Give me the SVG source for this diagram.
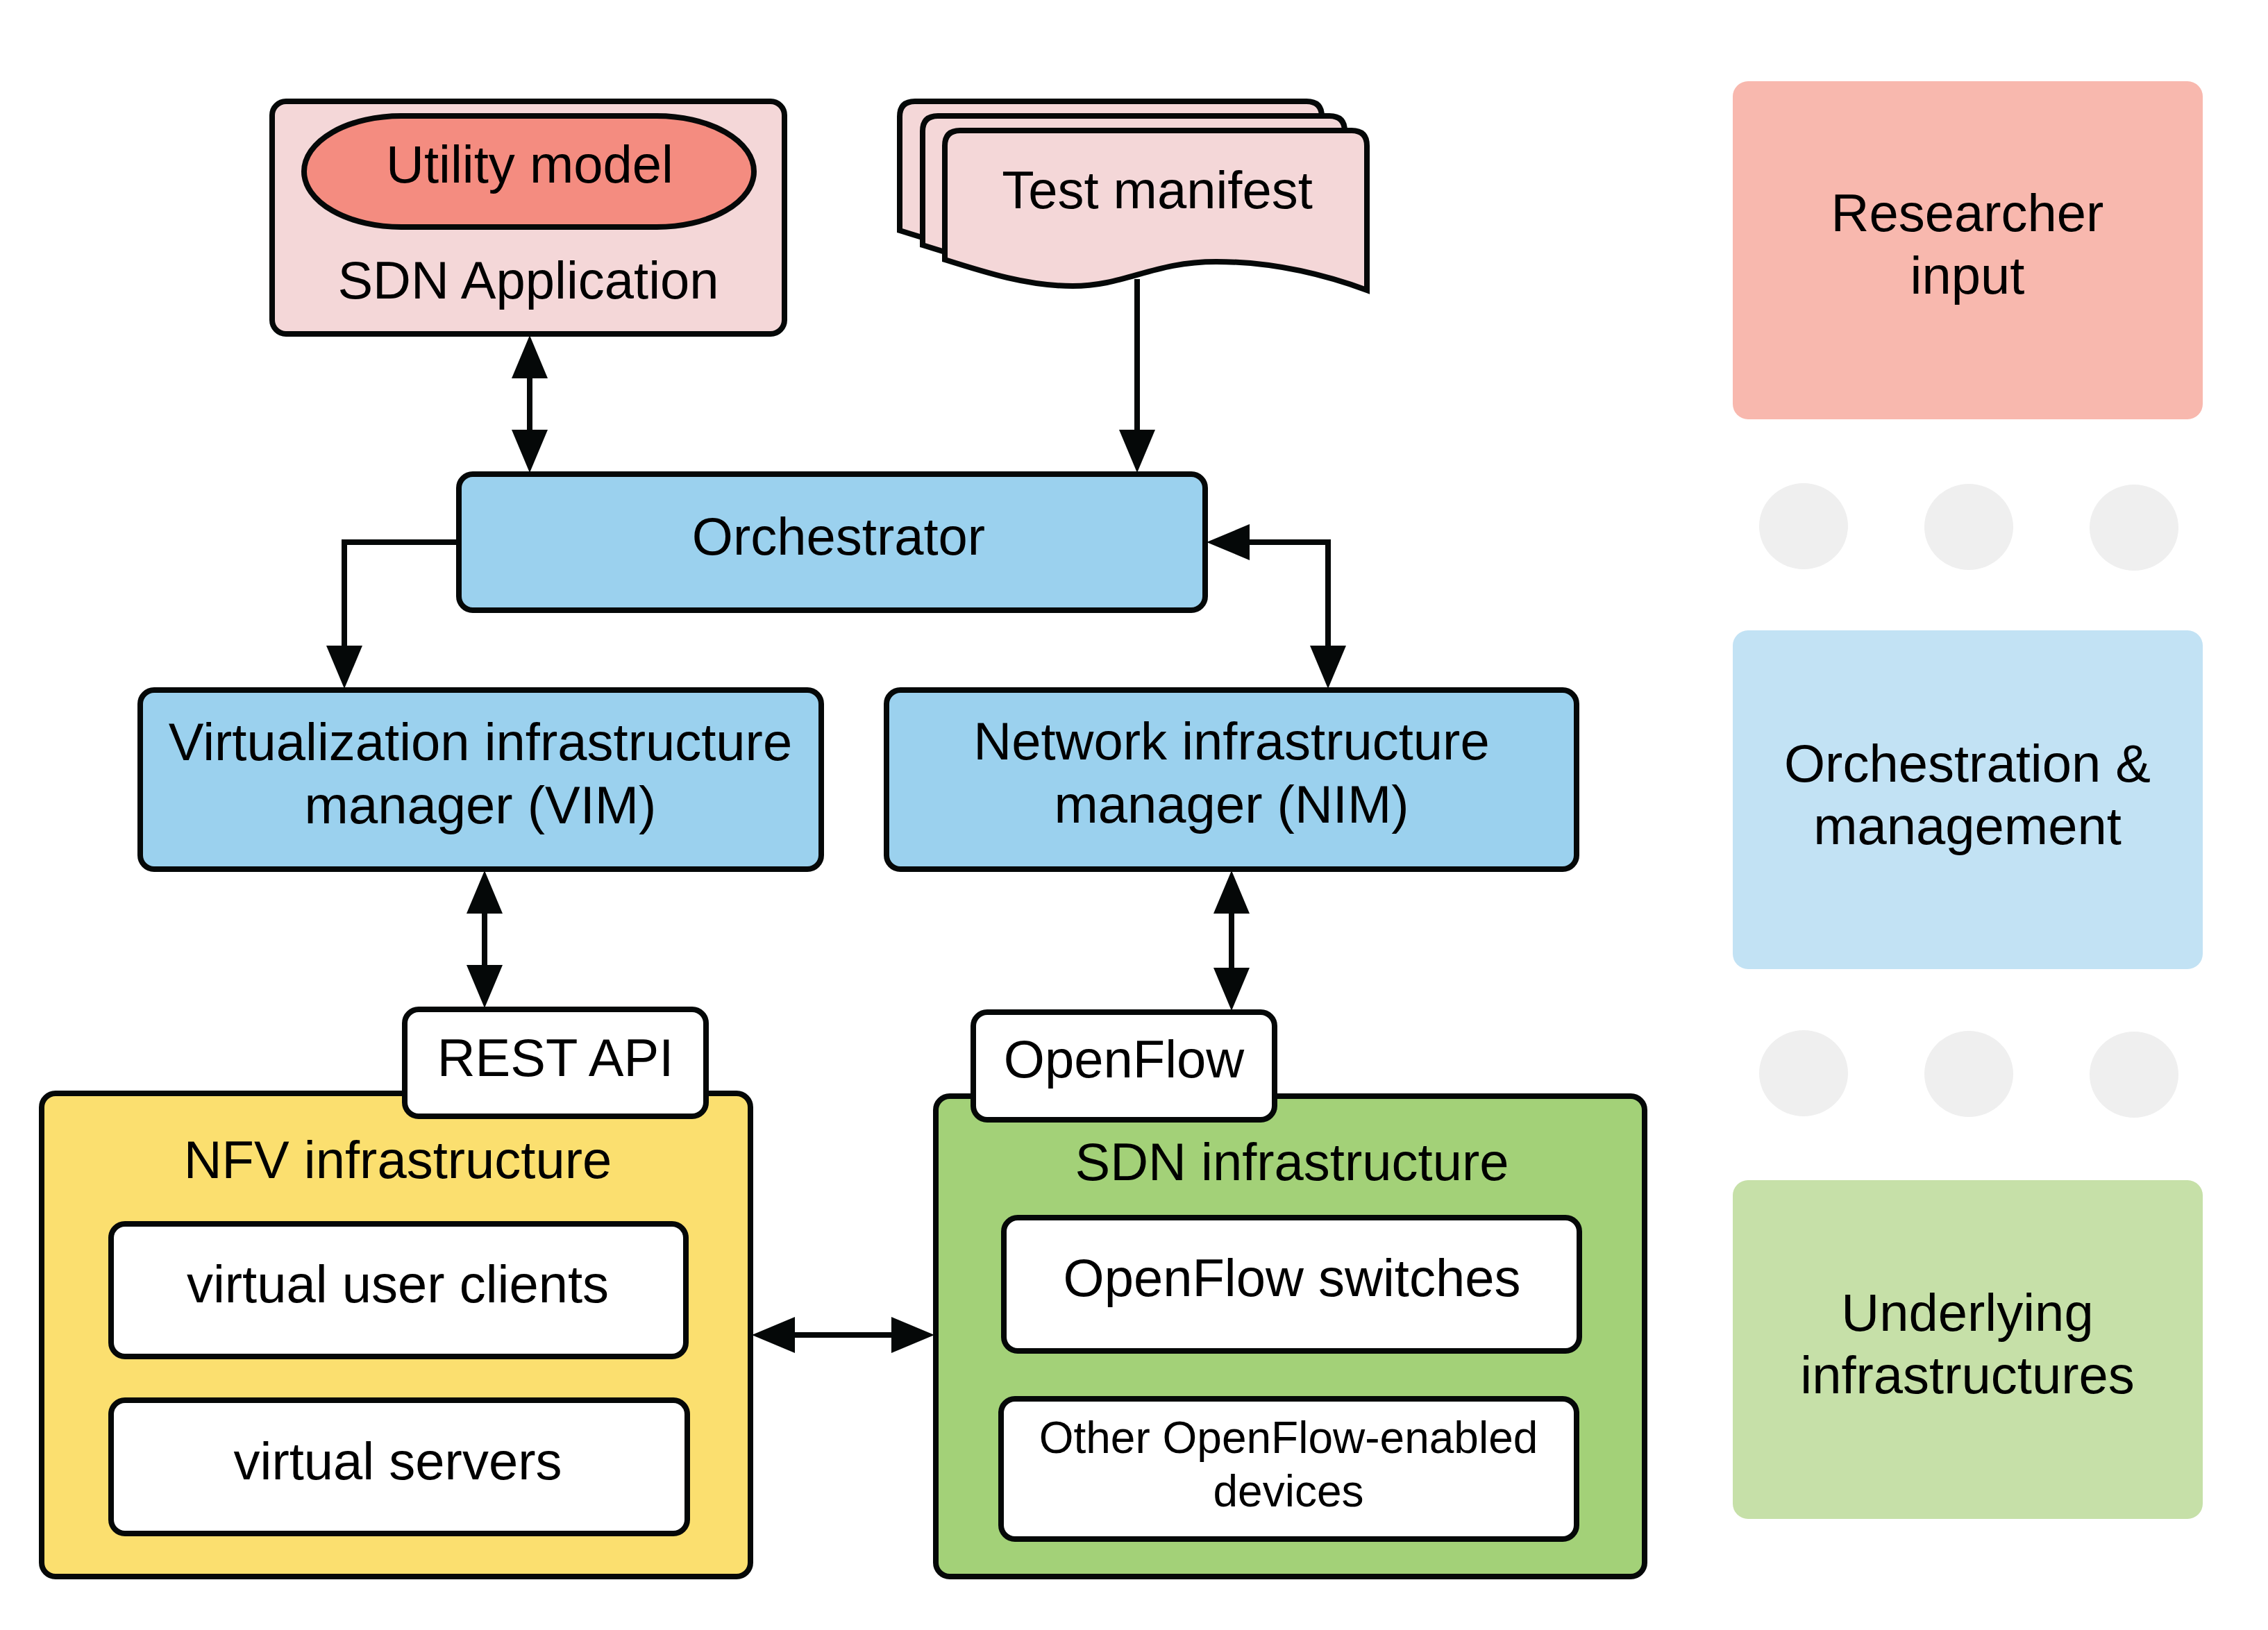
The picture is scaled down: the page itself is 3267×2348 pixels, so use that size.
<svg xmlns="http://www.w3.org/2000/svg" width="3267" height="2348" viewBox="0 0 3267 2348">
<style>
text{font-family:"Liberation Sans",Arial,sans-serif;font-size:76px;fill:#000;text-anchor:middle}
.box{stroke:#050808;stroke-width:8}
.conn{stroke:#050808;stroke-width:8;fill:none}
.blue{fill:#9bd1ee}
.white{fill:#ffffff}
.pink{fill:#f4d7d8}
.leg{stroke:none}
.dot{fill:#efefef}
.small{font-size:64px}
</style>
<defs>
<marker id="ah" markerUnits="userSpaceOnUse" markerWidth="62" markerHeight="52" refX="42" refY="26" orient="auto-start-reverse" viewBox="0 0 62 52">
<path d="M0,0 L62,26 L0,52 z" fill="#050808"/>
</marker>
<path id="sheet" d="M0,22 Q0,0 22,0 H586 Q608,0 608,22 V230 C540,205 470,189 391,189 C300,189 260,224 184,224 C120,224 60,205 0,186 Z"/>
</defs>
<rect width="3267" height="2348" fill="#ffffff"/>

<g id="sdn-application">
<rect class="box pink" x="392" y="146" width="738" height="335" rx="20"/>
<rect class="box" x="438" y="167" width="648" height="160" rx="140" ry="80" fill="#f48c80"/>
<text x="763" y="263">Utility model</text>
<text x="761" y="430">SDN Application</text>
</g>

<g id="test-manifest">
<use href="#sheet" class="box pink" x="1296" y="146"/>
<use href="#sheet" class="box pink" x="1329" y="167"/>
<use href="#sheet" class="box pink" x="1361" y="188"/>
<text x="1667" y="300">Test manifest</text>
</g>

<g id="orchestrator">
<rect class="box blue" x="661" y="683" width="1075" height="196" rx="20"/>
<text x="1208" y="799">Orchestrator</text>
</g>

<g id="vim">
<rect class="box blue" x="202" y="994" width="981" height="258" rx="20"/>
<text x="692" y="1095">Virtualization infrastructure</text>
<text x="692" y="1186">manager (VIM)</text>
</g>

<g id="nim">
<rect class="box blue" x="1277" y="994" width="994" height="258" rx="20"/>
<text x="1774" y="1094">Network infrastructure</text>
<text x="1774" y="1185">manager (NIM)</text>
</g>

<g id="nfv-infrastructure">
<rect class="box" x="60" y="1575" width="1021" height="696" rx="20" fill="#fbdf6f"/>
<text x="573" y="1697">NFV infrastructure</text>
</g>
<g id="virtual-user-clients">
<rect class="box white" x="160" y="1763" width="828" height="191" rx="20"/>
<text x="573" y="1876">virtual user clients</text>
</g>
<g id="virtual-servers">
<rect class="box white" x="160" y="2017" width="830" height="192" rx="20"/>
<text x="573" y="2131">virtual servers</text>
</g>
<g id="rest-api">
<rect class="box white" x="583" y="1454" width="434" height="154" rx="20"/>
<text x="800" y="1550">REST API</text>
</g>

<g id="sdn-infrastructure">
<rect class="box" x="1348" y="1579" width="1021" height="692" rx="20" fill="#a3d178"/>
<text x="1861" y="1700">SDN infrastructure</text>
</g>
<g id="openflow-switches">
<rect class="box white" x="1446" y="1754" width="829" height="192" rx="20"/>
<text x="1861" y="1867">OpenFlow switches</text>
</g>
<g id="other-devices">
<rect class="box white" x="1442" y="2015" width="829" height="202" rx="20"/>
<text class="small" x="1856" y="2093">Other OpenFlow-enabled</text>
<text class="small" x="1856" y="2170">devices</text>
</g>
<g id="openflow">
<rect class="box white" x="1402" y="1458" width="434" height="155" rx="20"/>
<text x="1619" y="1552">OpenFlow</text>
</g>

<g id="connectors">
<line class="conn" x1="763" y1="503" x2="763" y2="661" marker-start="url(#ah)" marker-end="url(#ah)"/>
<line class="conn" x1="1638" y1="402" x2="1638" y2="661" marker-end="url(#ah)"/>
<path class="conn" d="M661,781 H496 V972" marker-end="url(#ah)"/>
<path class="conn" d="M1758,781 H1913 V972" marker-start="url(#ah)" marker-end="url(#ah)"/>
<line class="conn" x1="698" y1="1274" x2="698" y2="1432" marker-start="url(#ah)" marker-end="url(#ah)"/>
<line class="conn" x1="1774" y1="1274" x2="1774" y2="1436" marker-start="url(#ah)" marker-end="url(#ah)"/>
<line class="conn" x1="1103" y1="1923" x2="1326" y2="1923" marker-start="url(#ah)" marker-end="url(#ah)"/>
</g>

<g id="legend-researcher-input">
<rect class="leg" x="2496" y="117" width="677" height="487" rx="22" fill="#f8b8ae"/>
<text x="2834" y="333">Researcher</text>
<text x="2834" y="423">input</text>
</g>
<g id="dots-1">
<ellipse class="dot" cx="2598" cy="758" rx="64" ry="62"/>
<ellipse class="dot" cx="2836" cy="759" rx="64" ry="62"/>
<ellipse class="dot" cx="3074" cy="760" rx="64" ry="62"/>
</g>
<g id="legend-orchestration">
<rect class="leg" x="2496" y="908" width="677" height="488" rx="22" fill="#c2e2f4"/>
<text x="2834" y="1126">Orchestration &amp;</text>
<text x="2834" y="1216">management</text>
</g>
<g id="dots-2">
<ellipse class="dot" cx="2598" cy="1546" rx="64" ry="62"/>
<ellipse class="dot" cx="2836" cy="1547" rx="64" ry="62"/>
<ellipse class="dot" cx="3074" cy="1548" rx="64" ry="62"/>
</g>
<g id="legend-underlying">
<rect class="leg" x="2496" y="1700" width="677" height="488" rx="22" fill="#c6e0a8"/>
<text x="2834" y="1917">Underlying</text>
<text x="2834" y="2007">infrastructures</text>
</g>
</svg>
